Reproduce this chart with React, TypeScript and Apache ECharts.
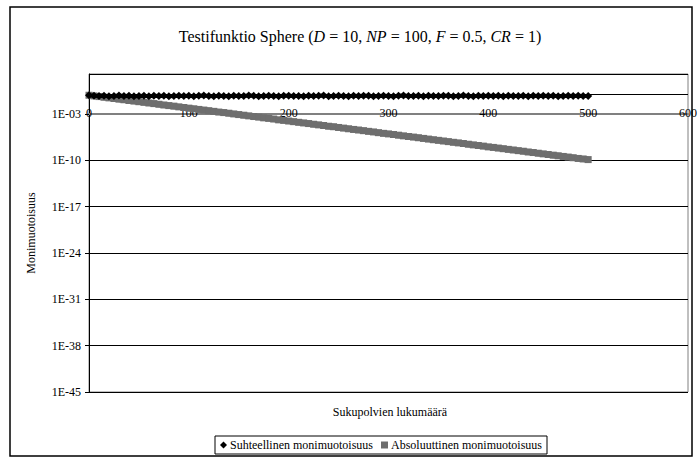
import React, { useEffect, useRef } from "react";
import * as echarts from "echarts";

// Generations sampled every 5 generations (0..500)
const generations: number[] = Array.from({ length: 101 }, (_, i) => i * 5);

// Suhteellinen monimuotoisuus (relative diversity)
const relativeDiversity: number[] = [
  0.62, 0.5, 0.47, 0.52, 0.44, 0.49, 0.55, 0.46, 0.51, 0.43,
  0.48, 0.53, 0.45, 0.5, 0.47, 0.54, 0.44, 0.49, 0.52, 0.46,
  0.5, 0.43, 0.51, 0.56, 0.47, 0.45, 0.52, 0.49, 0.44, 0.53,
  0.48, 0.46, 0.55, 0.5, 0.43, 0.49, 0.52, 0.47, 0.45, 0.51,
  0.54, 0.46, 0.49, 0.44, 0.52, 0.48, 0.5, 0.56, 0.45, 0.47,
  0.53, 0.49, 0.44, 0.51, 0.46, 0.5, 0.54, 0.43, 0.48, 0.52,
  0.47, 0.45, 0.5, 0.55, 0.46, 0.49, 0.51, 0.44, 0.53, 0.48,
  0.46, 0.52, 0.5, 0.43, 0.49, 0.55, 0.47, 0.45, 0.51, 0.48,
  0.53, 0.46, 0.5, 0.44, 0.52, 0.49, 0.47, 0.54, 0.45, 0.5,
  0.48, 0.52, 0.46, 0.51, 0.44, 0.49, 0.53, 0.47, 0.5, 0.46,
  0.48,
];

// Absoluuttinen monimuotoisuus (absolute diversity)
const absoluteDiversity: number[] = [
  6.2e-1, 4.9e-1, 3.9e-1, 3.1e-1, 2.5e-1, 2.0e-1, 1.6e-1, 1.3e-1, 1.0e-1, 8.2e-2,
  6.6e-2, 5.3e-2, 4.2e-2, 3.4e-2, 2.7e-2, 2.1e-2, 1.7e-2, 1.4e-2, 1.1e-2, 8.8e-3,
  7.0e-3, 5.6e-3, 4.5e-3, 3.6e-3, 2.9e-3, 2.3e-3, 1.8e-3, 1.5e-3, 1.2e-3, 9.4e-4,
  7.5e-4, 6.0e-4, 4.8e-4, 3.8e-4, 3.1e-4, 2.4e-4, 2.0e-4, 1.6e-4, 1.2e-4, 1.0e-4,
  8.0e-5, 6.4e-5, 5.1e-5, 4.1e-5, 3.3e-5, 2.6e-5, 2.1e-5, 1.7e-5, 1.3e-5, 1.1e-5,
  8.5e-6, 6.8e-6, 5.4e-6, 4.3e-6, 3.5e-6, 2.8e-6, 2.2e-6, 1.8e-6, 1.4e-6, 1.1e-6,
  9.1e-7, 7.3e-7, 5.8e-7, 4.6e-7, 3.7e-7, 3.0e-7, 2.4e-7, 1.9e-7, 1.5e-7, 1.2e-7,
  9.7e-8, 7.7e-8, 6.2e-8, 4.9e-8, 4.0e-8, 3.2e-8, 2.5e-8, 2.0e-8, 1.6e-8, 1.3e-8,
  1.0e-8, 8.3e-9, 6.6e-9, 5.3e-9, 4.2e-9, 3.4e-9, 2.7e-9, 2.2e-9, 1.7e-9, 1.4e-9,
  1.1e-9, 8.8e-10, 7.0e-10, 5.6e-10, 4.5e-10, 3.6e-10, 2.9e-10, 2.3e-10, 1.8e-10, 1.5e-10,
  1.2e-10,
];

const seriesNames: string[] = ["Suhteellinen monimuotoisuus", "Absoluuttinen monimuotoisuus"];

// y axis: exponents (log10) of the tick labels; the x axis crosses at 1E-03
const Y_MIN_EXP = -45;
const Y_MAX_EXP = 3;
const Y_STEP = 7;
const CROSS_EXP = -3;
const UNIT_LINE_EXP = 0; // thin line at 1E+00

const X_MIN = 0;
const X_MAX = 600;
const X_STEP = 100;

const FONT = "'Liberation Serif', 'DejaVu Serif', serif";

const GRID = { left: 89, top: 74, right: 8, bottom: 68 };
const H = 460;

function toAxis(v: number): number {
  return Math.log10(v) - CROSS_EXP;
}

function expLabel(v: number): string {
  const e = Math.round(v + CROSS_EXP);
  const sign = e < 0 ? "-" : "+";
  const abs = Math.abs(e);
  return "1E" + sign + (abs < 10 ? "0" + abs : String(abs));
}

export default function App() {
  const ref = useRef<HTMLDivElement>(null);

  useEffect(() => {
    if (!ref.current) return;
    const chart = echarts.init(ref.current, undefined, { renderer: "svg" });

    const relData = generations.map((g, i) => [g, toAxis(relativeDiversity[i])]);
    const absData = generations.map((g, i) => [g, toAxis(absoluteDiversity[i])]);

    const yMin = Y_MIN_EXP - CROSS_EXP;
    const yMax = Y_MAX_EXP - CROSS_EXP;
    const gridH = H - GRID.top - GRID.bottom;
    // move the x axis up to where it crosses the y axis (1E-03)
    const xAxisOffset = -((0 - yMin) / (yMax - yMin)) * gridH;

    chart.setOption({
      animation: false,
      backgroundColor: "#ffffff",
      textStyle: { fontFamily: FONT },
      title: {
        left: 355,
        top: 23,
        textAlign: "center",
        text:
          "Testifunktio Sphere ({i|D} = 10, {i|NP} = 100, {i|F} = 0.5, {i|CR} = 1)",
        textStyle: {
          fontFamily: FONT,
          fontSize: 16,
          fontWeight: "normal",
          color: "#000",
          rich: {
            i: { fontFamily: FONT, fontSize: 16, fontStyle: "italic", color: "#000" },
          },
        },
      },
      grid: {
        left: GRID.left,
        top: GRID.top,
        right: GRID.right,
        bottom: GRID.bottom,
        show: true,
        borderColor: "#808080",
        borderWidth: 1,
        backgroundColor: "transparent",
      },
      legend: {
        data: [
          { name: seriesNames[0], icon: "diamond" },
          { name: seriesNames[1], icon: "rect" },
        ],
        left: 215,
        top: 436,
        itemWidth: 7,
        itemHeight: 7,
        itemGap: 8,
        borderColor: "#000",
        borderWidth: 1,
        borderRadius: 0,
        padding: [3, 5],
        textStyle: { fontFamily: FONT, fontSize: 12, color: "#000", padding: [0, 0, 0, -2] },
      },
      xAxis: {
        type: "value",
        min: X_MIN,
        max: X_MAX,
        interval: X_STEP,
        position: "bottom",
        offset: xAxisOffset,
        axisLine: { onZero: false, lineStyle: { color: "#808080", width: 2 } },
        axisTick: { show: false },
        splitLine: { show: false },
        axisLabel: {
          fontFamily: FONT,
          fontSize: 12,
          color: "#000",
          margin: -1,
          verticalAlign: "middle",
          showMaxLabel: true,
          showMinLabel: true,
        },
      },
      yAxis: {
        type: "value",
        min: yMin,
        max: yMax,
        interval: Y_STEP,
        name: "Monimuotoisuus",
        nameLocation: "middle",
        nameGap: 52,
        nameRotate: 90,
        nameTextStyle: { fontFamily: FONT, fontSize: 12, color: "#000" },
        axisLine: { show: true, onZero: false, lineStyle: { color: "#000", width: 1 } },
        axisTick: { show: true, length: 4, lineStyle: { color: "#000" } },
        splitLine: { show: true, lineStyle: { color: "#000", width: 1 } },
        axisLabel: {
          fontFamily: FONT,
          fontSize: 12,
          color: "#000",
          margin: 8,
          showMaxLabel: false,
          formatter: (v: number) => expLabel(v),
        },
      },
      graphic: [
        {
          type: "rect",
          shape: { x: 10, y: 7, width: 682, height: 449 },
          style: { fill: "none", stroke: "#000", lineWidth: 1.5 },
          z: 100,
          silent: true,
        },
        {
          type: "text",
          x: 390,
          y: 412,
          style: {
            text: "Sukupolvien lukumäärä",
            fontFamily: FONT,
            fontSize: 12,
            fill: "#000",
            align: "center",
            verticalAlign: "middle",
          },
        },
      ],
      series: [
        {
          name: seriesNames[0],
          type: "line",
          data: relData,
          symbol: "diamond",
          symbolSize: 8,
          showAllSymbol: true,
          itemStyle: { color: "#000" },
          lineStyle: { color: "#000", width: 4 },
          z: 3,
          markLine: {
            silent: true,
            symbol: "none",
            label: { show: false },
            lineStyle: { color: "#000", width: 1, type: "solid" },
            data: [{ yAxis: UNIT_LINE_EXP - CROSS_EXP }],
          },
        },
        {
          name: seriesNames[1],
          type: "line",
          data: absData,
          symbol: "rect",
          symbolSize: 7,
          showAllSymbol: true,
          itemStyle: { color: "#6e6e6e" },
          lineStyle: { color: "#6e6e6e", width: 6 },
          z: 2,
        },
      ],
    });

    return () => chart.dispose();
  }, []);

  return (
    <div
      ref={ref}
      style={{ position: "fixed", left: 0, top: 0, width: 700, height: 460 }}
    />
  );
}
